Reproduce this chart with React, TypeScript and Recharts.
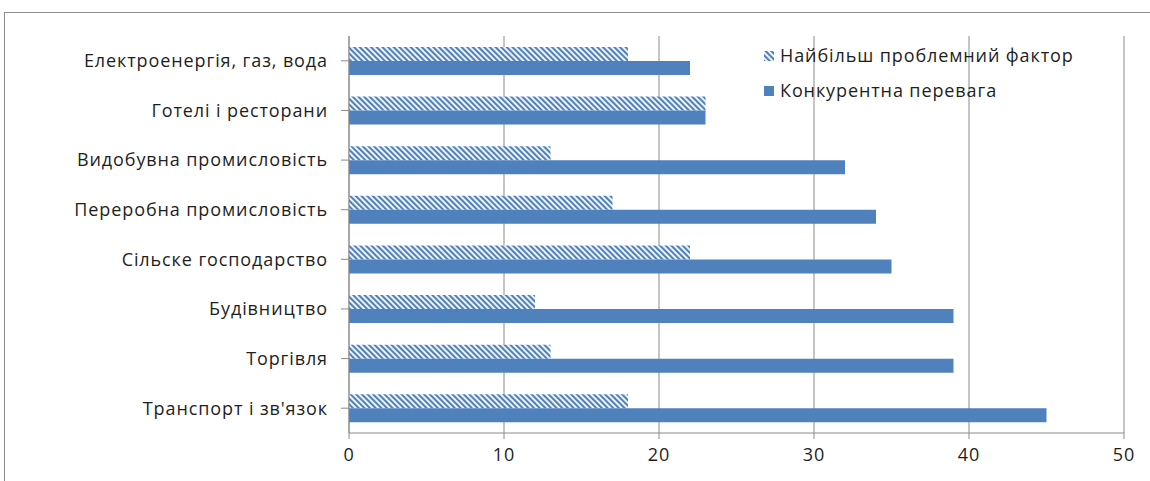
import React from 'react';
import { BarChart, Bar, XAxis, YAxis, CartesianGrid } from 'recharts';

const categories = [
  'Електроенергія, газ, вода',
  'Готелі і ресторани',
  'Видобувна промисловість',
  'Переробна промисловість',
  'Сільске господарство',
  'Будівництво',
  'Торгівля',
  "Транспорт і зв'язок",
];
const problemFactor = [18, 23, 13, 17, 22, 12, 13, 18];
const competitiveAdvantage = [22, 23, 32, 34, 35, 39, 39, 45];
const xTicks = [0, 10, 20, 30, 40, 50];
const seriesNames = ['Найбільш проблемний фактор', 'Конкурентна перевага'];

const data = categories.map((c, i) => ({
  name: c,
  problem: problemFactor[i],
  advantage: competitiveAdvantage[i],
}));

const BLUE = '#4F81BD';
const FONT = '"Open Sans", "Noto Sans", sans-serif';
const TEXT_STYLE = { fill: '#1e1e1e', fontSize: 18, fontFamily: FONT, letterSpacing: 0.9 };

const HatchDefs = ({ id }: { id: string }) => (
  <defs>
    <pattern id={id} width={4} height={4} patternUnits="userSpaceOnUse" patternTransform="rotate(-45)">
      <rect x={0} y={0} width={4} height={4} fill="#fff" />
      <rect x={0} y={0} width={2.2} height={4} fill={BLUE} />
    </pattern>
  </defs>
);

const LegendBox = () => (
  <div style={{ position: 'absolute', left: 764, top: 38, fontFamily: FONT, fontSize: 18, letterSpacing: 0.9, color: '#1e1e1e', lineHeight: '35px' }}>
    <div style={{ display: 'flex', alignItems: 'center', height: 35 }}>
      <svg width={10} height={10} style={{ marginRight: 6 }}>
        <HatchDefs id="hatchLegend" />
        <rect x={0} y={0} width={10} height={10} fill="url(#hatchLegend)" />
      </svg>
      {seriesNames[0]}
    </div>
    <div style={{ display: 'flex', alignItems: 'center', height: 35 }}>
      <svg width={10} height={10} style={{ marginRight: 6 }}>
        <rect x={0} y={0} width={10} height={10} fill={BLUE} />
      </svg>
      {seriesNames[1]}
    </div>
  </div>
);

export default function App() {
  return (
    <div style={{ position: 'absolute', left: 0, top: 0, width: 1150, height: 481, overflow: 'hidden', background: '#fff' }}>
      <div style={{ position: 'absolute', left: 4, top: 12, width: 1200, height: 520, border: '1.5px solid #8c8c8c', boxSizing: 'border-box' }} />
      <div style={{ position: 'absolute', left: 0, top: 0 }}>
        <BarChart
          width={1150}
          height={481}
          data={data}
          layout="vertical"
          margin={{ top: 36, right: 26, bottom: 18, left: 0 }}
          barCategoryGap="22%"
          barGap={0}
        >
          <HatchDefs id="hatch" />
          <CartesianGrid horizontal={false} vertical={true} stroke="#8a8a8a" />
          <XAxis
            type="number"
            domain={[0, 50]}
            ticks={xTicks}
            axisLine={{ stroke: '#8a8a8a' }}
            tickLine={{ stroke: '#8a8a8a' }}
            tickSize={6}
            tickMargin={9}
            height={30}
            tick={TEXT_STYLE}
          />
          <YAxis
            type="category"
            dataKey="name"
            width={349}
            axisLine={{ stroke: '#8a8a8a' }}
            tickLine={{ stroke: '#8a8a8a' }}
            tickSize={8}
            tickMargin={13}
            interval={0}
            tick={TEXT_STYLE}
          />
          <Bar dataKey="problem" name={seriesNames[0]} fill="url(#hatch)" isAnimationActive={false} />
          <Bar dataKey="advantage" name={seriesNames[1]} fill={BLUE} isAnimationActive={false} />
        </BarChart>
      </div>
      <LegendBox />
    </div>
  );
}
